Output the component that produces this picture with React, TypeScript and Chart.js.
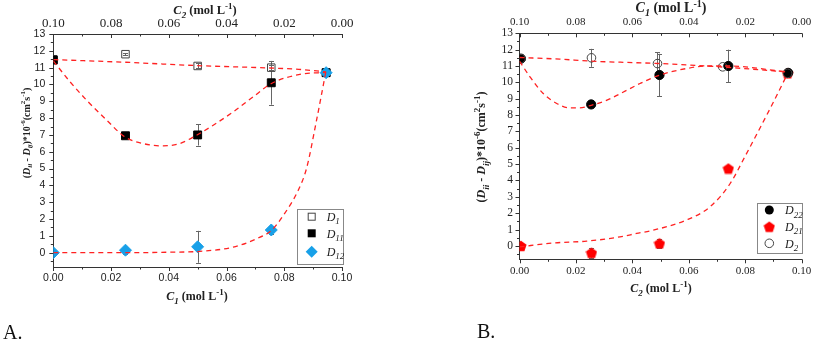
import React, { useEffect, useRef } from 'react';
import { Chart, registerables } from 'chart.js';
Chart.register(...registerables);

const SERIF = "'Liberation Serif', 'Times New Roman', serif";
const SANS = "'Liberation Sans', Arial, sans-serif";
const RED = '#ff2222';
const BLUE = '#18a0e8';
const AXIS = '#333333';
const TXT = '#222222';

// ---------- tick values ----------
const xMajor = [0, 0.02, 0.04, 0.06, 0.08, 0.1];
const xMinor = [0.01, 0.03, 0.05, 0.07, 0.09];
const yMajor = [0, 1, 2, 3, 4, 5, 6, 7, 8, 9, 10, 11, 12, 13];
const yMinor = [-0.5, 0.5, 1.5, 2.5, 3.5, 4.5, 5.5, 6.5, 7.5, 8.5, 9.5, 10.5, 11.5, 12.5];

// ---------- Panel A ----------
const aX = [0, 0.025, 0.05, 0.0755, 0.0945];
const aD1 = [11.5, 11.8, 11.1, 11.0, 10.7];
const aD1Err = [0, 0.05, 0.15, 0.15, 0];
const aD11 = [11.45, 6.95, 7.0, 10.1, 10.7];
const aD11Err = [0, 0.1, 0.63, 1.3, 0];
const aD12 = [0, 0.15, 0.35, 1.35, 10.7];
const aD12Err = [0, 0.2, 0.95, 0.25, 0];

const aFit1X = [0, 0.025, 0.05, 0.075, 0.085, 0.0945];
const aFit1Y = [11.48, 11.32, 11.12, 10.98, 10.9, 10.75];
const aFit11X = [0, 0.0058, 0.0115, 0.0185, 0.0248, 0.031, 0.038, 0.0438, 0.0496, 0.0554, 0.0623, 0.0692, 0.0756, 0.0854, 0.0945];
const aFit11Y = [11.4, 10.16, 9.07, 7.88, 6.88, 6.49, 6.35, 6.49, 6.98, 7.58, 8.37, 9.26, 10.06, 10.6, 10.72];
const aFit12X = [0, 0.025, 0.04, 0.0508, 0.0623, 0.0704, 0.0756, 0.0796, 0.0848, 0.0877, 0.0911, 0.0944];
const aFit12Y = [0, 0, 0.03, 0.08, 0.33, 0.83, 1.33, 2.2, 3.7, 5.0, 7.8, 10.75];

// ---------- Panel B ----------
const bX22 = [0.0005, 0.0254, 0.0496, 0.074, 0.0952];
const bD22 = [11.45, 8.65, 10.45, 11.0, 10.58];
const bD22Err = [0, 0.1, 1.3, 1.0, 0.2];
const bX21 = [0.0005, 0.0255, 0.0496, 0.074, 0.095];
const bD21 = [0, -0.42, 0.15, 4.73, 10.55];
const bD21Err = [0, 0.3, 0.25, 0.1, 0];
const bX2 = [0.0005, 0.0255, 0.0489, 0.072, 0.095];
const bD2 = [11.45, 11.5, 11.15, 10.95, 10.55];
const bD2Err = [0, 0.55, 0.7, 0, 0];

const bFit2X = [0, 0.0143, 0.025, 0.0415, 0.05, 0.071, 0.0947];
const bFit2Y = [11.52, 11.42, 11.3, 11.2, 11.15, 10.95, 10.64];
const bFit22X = [0, 0.0037, 0.0084, 0.0132, 0.0179, 0.0214, 0.0254, 0.031, 0.0356, 0.0427, 0.0496, 0.0593, 0.0663, 0.074, 0.0947];
const bFit22Y = [11.3, 10.34, 9.32, 8.71, 8.44, 8.44, 8.6, 8.91, 9.3, 9.93, 10.44, 10.85, 11.0, 11.0, 10.64];
const bFit21X = [0, 0.012, 0.0238, 0.0356, 0.0415, 0.0474, 0.059, 0.0675, 0.0746, 0.08, 0.0855, 0.09, 0.0946];
const bFit21Y = [-0.06, 0.18, 0.29, 0.55, 0.76, 0.96, 1.57, 2.39, 3.8, 5.5, 7.3, 8.8, 10.4];

// ---------- helpers ----------
type Part = { t: string; i?: boolean; sub?: boolean; sup?: boolean };

function pts(xs: number[], ys: number[]) {
  return xs.map((x, i) => ({ x, y: ys[i] }));
}

let pentCache: HTMLCanvasElement | null = null;
function pentagon(): HTMLCanvasElement {
  if (pentCache) return pentCache;
  const c = document.createElement('canvas');
  c.width = 12;
  c.height = 12;
  const g = c.getContext('2d')!;
  g.fillStyle = '#ff0000';
  g.beginPath();
  for (let k = 0; k < 5; k++) {
    const a = -Math.PI / 2 + (k * 2 * Math.PI) / 5;
    const px = 6 + 5.9 * Math.cos(a);
    const py = 6.6 + 5.9 * Math.sin(a);
    if (k === 0) g.moveTo(px, py);
    else g.lineTo(px, py);
  }
  g.closePath();
  g.fill();
  pentCache = c;
  return c;
}

function drawRich(
  ctx: CanvasRenderingContext2D,
  parts: Part[],
  x: number,
  y: number,
  size: number,
  bold: boolean,
  rotate: boolean,
  align: 'center' | 'left' = 'center'
) {
  const font = (p: Part) =>
    `${p.i ? 'italic ' : ''}${bold ? 'bold ' : ''}${p.sub || p.sup ? Math.round(size * 0.72) : size}px ${SERIF}`;
  let w = 0;
  for (const p of parts) {
    ctx.font = font(p);
    w += ctx.measureText(p.t).width;
  }
  ctx.save();
  ctx.translate(x, y);
  if (rotate) ctx.rotate(-Math.PI / 2);
  ctx.fillStyle = TXT;
  ctx.textBaseline = 'alphabetic';
  ctx.textAlign = 'left';
  let cx = align === 'center' ? -w / 2 : 0;
  const base = size * 0.35;
  for (const p of parts) {
    ctx.font = font(p);
    const dy = p.sub ? size * 0.28 : p.sup ? -size * 0.42 : 0;
    ctx.fillText(p.t, cx, base + dy);
    cx += ctx.measureText(p.t).width;
  }
  ctx.restore();
}

function drawMarker(ctx: CanvasRenderingContext2D, kind: string, x: number, y: number) {
  ctx.save();
  ctx.lineWidth = 1;
  if (kind === 'sqOpen') {
    ctx.strokeStyle = '#444';
    ctx.strokeRect(x - 3.5, y - 3.5, 7, 7);
  } else if (kind === 'sqFill') {
    ctx.fillStyle = '#000';
    ctx.fillRect(x - 4, y - 4, 8, 8);
  } else if (kind === 'diamond') {
    ctx.fillStyle = BLUE;
    ctx.beginPath();
    ctx.moveTo(x, y - 6);
    ctx.lineTo(x + 6, y);
    ctx.lineTo(x, y + 6);
    ctx.lineTo(x - 6, y);
    ctx.closePath();
    ctx.fill();
  } else if (kind === 'circFill') {
    ctx.fillStyle = '#000';
    ctx.beginPath();
    ctx.arc(x, y, 4.5, 0, Math.PI * 2);
    ctx.fill();
  } else if (kind === 'circOpen') {
    ctx.strokeStyle = '#444';
    ctx.beginPath();
    ctx.arc(x, y, 4.3, 0, Math.PI * 2);
    ctx.stroke();
  } else if (kind === 'pent') {
    const p = pentagon();
    ctx.drawImage(p, x - p.width / 2, y - p.height / 2);
  }
  ctx.restore();
}

function axisTicks(chart: any, id: string, dir: 'in' | 'out') {
  const s = chart.scales[id];
  const ca = chart.chartArea;
  const ctx: CanvasRenderingContext2D = chart.ctx;
  ctx.save();
  ctx.strokeStyle = AXIS;
  ctx.lineWidth = 1;
  const horiz = s.isHorizontal();
  const major = horiz ? xMajor : yMajor;
  const minor = horiz ? xMinor : yMinor;
  const draw = (v: number, len: number) => {
    if (horiz) {
      const px = Math.round(s.getPixelForValue(v)) + 0.5;
      const top = s.position === 'top';
      const base = top ? ca.top : ca.bottom;
      const sign = (top ? -1 : 1) * (dir === 'out' ? 1 : -1);
      ctx.beginPath();
      ctx.moveTo(px, base);
      ctx.lineTo(px, base + sign * len);
      ctx.stroke();
    } else {
      const py = Math.round(s.getPixelForValue(v)) + 0.5;
      if (py < ca.top - 0.5 || py > ca.bottom + 0.5) return;
      const sign = dir === 'out' ? -1 : 1;
      ctx.beginPath();
      ctx.moveTo(ca.left, py);
      ctx.lineTo(ca.left + sign * len, py);
      ctx.stroke();
    }
  };
  major.forEach((v) => draw(v, 4));
  minor.forEach((v) => draw(v, 2.5));
  ctx.restore();
}

type ErrSet = { xs: number[]; ys: number[]; errs: number[] };
type LegendItem = { kind: string; sub: string; y: number };
type Title = { parts: Part[]; x: number; y: number; size: number; rotate: boolean };

interface Spec {
  leftW: number;
  padRight: number;
  topH: number;
  bottomH: number;
  yMin: number;
  xFont: any;
  x2Font: any;
  yFont: any;
  xPad: number;
  x2Pad: number;
  yPad: number;
  datasets: any[];
  errors: ErrSet[];
  titles: Title[];
  legendBox: { x: number; y: number; w: number; h: number };
  legendItems: LegendItem[];
  markerX: number;
  labelX: number;
}

function curve(xs: number[], ys: number[]) {
  return {
    type: 'scatter',
    data: pts(xs, ys),
    showLine: true,
    borderColor: RED,
    borderWidth: 1.3,
    borderDash: [5, 4],
    pointRadius: 0,
    cubicInterpolationMode: 'monotone',
    fill: false,
    clip: 0,
  };
}

function marks(xs: number[], ys: number[], style: any, radius: number, bg: string, border: string) {
  return {
    type: 'scatter',
    data: pts(xs, ys),
    pointStyle: style,
    pointRadius: radius,
    backgroundColor: bg,
    borderColor: border,
    borderWidth: 1,
    clip: 0,
  };
}

const noGrid = { display: false, drawTicks: false, tickLength: 0 };

function buildChart(canvas: HTMLCanvasElement, sp: Spec) {
  const plugin = {
    id: 'decor',
    beforeDatasetsDraw(chart: any) {
      const ctx: CanvasRenderingContext2D = chart.ctx;
      const xs = chart.scales.x;
      const ys = chart.scales.y;
      ctx.save();
      ctx.strokeStyle = '#666';
      ctx.lineWidth = 1;
      for (const e of sp.errors) {
        e.xs.forEach((xv, i) => {
          const er = e.errs[i];
          if (!er) return;
          const px = Math.round(xs.getPixelForValue(xv)) + 0.5;
          const y1 = ys.getPixelForValue(e.ys[i] + er);
          const y2 = ys.getPixelForValue(e.ys[i] - er);
          ctx.beginPath();
          ctx.moveTo(px, y1);
          ctx.lineTo(px, y2);
          ctx.moveTo(px - 2.5, Math.round(y1) + 0.5);
          ctx.lineTo(px + 2.5, Math.round(y1) + 0.5);
          ctx.moveTo(px - 2.5, Math.round(y2) + 0.5);
          ctx.lineTo(px + 2.5, Math.round(y2) + 0.5);
          ctx.stroke();
        });
      }
      ctx.restore();
    },
    afterDraw(chart: any) {
      const ctx: CanvasRenderingContext2D = chart.ctx;
      axisTicks(chart, 'x', 'out');
      axisTicks(chart, 'x2', 'in');
      axisTicks(chart, 'y', 'out');
      for (const t of sp.titles) drawRich(ctx, t.parts, t.x, t.y, t.size, true, t.rotate);
      const b = sp.legendBox;
      ctx.save();
      ctx.strokeStyle = '#888';
      ctx.lineWidth = 1;
      ctx.strokeRect(Math.round(b.x) + 0.5, Math.round(b.y) + 0.5, Math.round(b.w), Math.round(b.h));
      ctx.restore();
      for (const it of sp.legendItems) {
        drawMarker(ctx, it.kind, sp.markerX, it.y);
        drawRich(ctx, [{ t: 'D', i: true }, { t: it.sub, i: true, sub: true }], sp.labelX, it.y, 12, false, false, 'left');
      }
    },
  };

  return new Chart(canvas, {
    type: 'scatter',
    data: { datasets: sp.datasets },
    options: {
      responsive: false,
      animation: false,
      events: [],
      layout: { padding: { left: 0, right: sp.padRight, top: 0, bottom: 0 } },
      plugins: { legend: { display: false }, tooltip: { enabled: false }, title: { display: false } },
      scales: {
        x: {
          type: 'linear',
          position: 'bottom',
          min: 0,
          max: 0.1,
          grid: noGrid,
          border: { display: true, color: AXIS, width: 1 },
          ticks: { font: sp.xFont, color: TXT, padding: sp.xPad, maxRotation: 0, autoSkip: false, callback: (v: any) => Number(v).toFixed(2) },
          afterBuildTicks: (s: any) => { s.ticks = xMajor.map((v) => ({ value: v })); },
          afterFit: (s: any) => { s.height = sp.bottomH; s.paddingLeft = 0; s.paddingRight = 0; },
        },
        x2: {
          type: 'linear',
          position: 'top',
          reverse: true,
          min: 0,
          max: 0.1,
          grid: noGrid,
          border: { display: true, color: AXIS, width: 1 },
          ticks: { font: sp.x2Font, color: TXT, padding: sp.x2Pad, maxRotation: 0, autoSkip: false, callback: (v: any) => Number(v).toFixed(2) },
          afterBuildTicks: (s: any) => { s.ticks = xMajor.map((v) => ({ value: v })); },
          afterFit: (s: any) => { s.height = sp.topH; s.paddingLeft = 0; s.paddingRight = 0; },
        },
        y: {
          type: 'linear',
          position: 'left',
          min: sp.yMin,
          max: 13,
          grid: noGrid,
          border: { display: true, color: AXIS, width: 1 },
          ticks: { font: sp.yFont, color: TXT, padding: sp.yPad, callback: (v: any) => String(v) },
          afterBuildTicks: (s: any) => { s.ticks = yMajor.map((v) => ({ value: v })); },
          afterFit: (s: any) => { s.width = sp.leftW; s.paddingTop = 0; s.paddingBottom = 0; },
        },
      },
    } as any,
    plugins: [plugin],
  });
}

const yTitleParts: Part[] = [
  { t: '(' }, { t: 'D', i: true }, { t: 'ii', i: true, sub: true }, { t: ' - ' },
  { t: 'D', i: true }, { t: 'ij', i: true, sub: true }, { t: ')*10' }, { t: '-6', sup: true },
  { t: '(cm' }, { t: '2', sup: true }, { t: 's' }, { t: '-1', sup: true }, { t: ')' },
];
const cParts = (n: string): Part[] => [
  { t: 'C', i: true }, { t: n, i: true, sub: true }, { t: ' (mol L' }, { t: '-1', sup: true }, { t: ')' },
];

function specA(): Spec {
  return {
    leftW: 53.3,
    padRight: 58,
    topH: 34,
    bottomH: 74,
    yMin: -0.85,
    xFont: { family: SANS, size: 10.5 },
    x2Font: { family: SERIF, size: 13 },
    yFont: { family: SANS, size: 10.5 },
    xPad: 5,
    x2Pad: 3,
    yPad: 8,
    datasets: [
      curve(aFit1X, aFit1Y),
      curve(aFit11X, aFit11Y),
      curve(aFit12X, aFit12Y),
      marks(aX, aD12, 'rectRot', 6, BLUE, BLUE),
      marks(aX, aD11, 'rect', 5.6, '#000', '#000'),
      marks(aX, aD1, 'rect', 5.3, 'rgba(0,0,0,0)', '#444'),
    ],
    errors: [
      { xs: aX, ys: aD1, errs: aD1Err },
      { xs: aX, ys: aD11, errs: aD11Err },
      { xs: aX, ys: aD12, errs: aD12Err },
    ],
    titles: [
      { parts: cParts('1'), x: 197, y: 296, size: 12, rotate: false },
      { parts: cParts('2'), x: 205, y: 10, size: 12.5, rotate: false },
      { parts: yTitleParts, x: 26, y: 133, size: 10, rotate: true },
    ],
    legendBox: { x: 297, y: 208.5, w: 45.5, h: 55 },
    legendItems: [
      { kind: 'sqOpen', sub: '1', y: 216.7 },
      { kind: 'sqFill', sub: '11', y: 233.3 },
      { kind: 'diamond', sub: '12', y: 251.7 },
    ],
    markerX: 311.7,
    labelX: 326.7,
  };
}

function specB(): Spec {
  const off = 410;
  return {
    leftW: 519.5 - off,
    padRight: 813 - 801.7,
    topH: 33.3,
    bottomH: 341 - 259.3,
    yMin: -0.82,
    xFont: { family: SERIF, size: 11 },
    x2Font: { family: SERIF, size: 11 },
    yFont: { family: SERIF, size: 11.5 },
    xPad: 5,
    x2Pad: 5,
    yPad: 6.5,
    datasets: [
      curve(bFit2X, bFit2Y),
      curve(bFit22X, bFit22Y),
      curve(bFit21X, bFit21Y),
      marks(bX2, bD2, 'circle', 4.3, 'rgba(0,0,0,0)', '#444'),
      marks(bX22, bD22, 'circle', 4.6, '#000', '#000'),
      marks(bX21, bD21, pentagon(), 6, '#f00', '#f00'),
    ],
    errors: [
      { xs: bX2, ys: bD2, errs: bD2Err },
      { xs: bX22, ys: bD22, errs: bD22Err },
      { xs: bX21, ys: bD21, errs: bD21Err },
    ],
    titles: [
      { parts: cParts('2'), x: 661 - off, y: 288, size: 12, rotate: false },
      { parts: cParts('1'), x: 671 - off, y: 7.5, size: 14, rotate: false },
      { parts: yTitleParts, x: 481 - off, y: 147, size: 12, rotate: true },
    ],
    legendBox: { x: 756.7 - off, y: 203.3, w: 45, h: 50 },
    legendItems: [
      { kind: 'circFill', sub: '22', y: 210 },
      { kind: 'pent', sub: '21', y: 226.7 },
      { kind: 'circOpen', sub: '2', y: 243.3 },
    ],
    markerX: 769.3 - off,
    labelX: 785 - off,
  };
}

export default function App() {
  const refA = useRef<HTMLCanvasElement>(null);
  const refB = useRef<HTMLCanvasElement>(null);
  useEffect(() => {
    const a = buildChart(refA.current!, specA());
    const b = buildChart(refB.current!, specB());
    return () => {
      a.destroy();
      b.destroy();
    };
  }, []);
  return (
    <div style={{ position: 'fixed', left: 0, top: 0, width: 813, height: 341, background: '#fff', overflow: 'hidden' }}>
      <canvas ref={refA} width={400} height={341} style={{ position: 'absolute', left: 0, top: 0 }} />
      <canvas ref={refB} width={403} height={341} style={{ position: 'absolute', left: 410, top: 0 }} />
      <div style={{ position: 'absolute', left: 3, top: 321.7, font: `20px ${SERIF}`, lineHeight: '20px', color: '#111' }}>A.</div>
      <div style={{ position: 'absolute', left: 477, top: 320.7, font: `20px ${SERIF}`, lineHeight: '20px', color: '#111' }}>B.</div>
    </div>
  );
}
